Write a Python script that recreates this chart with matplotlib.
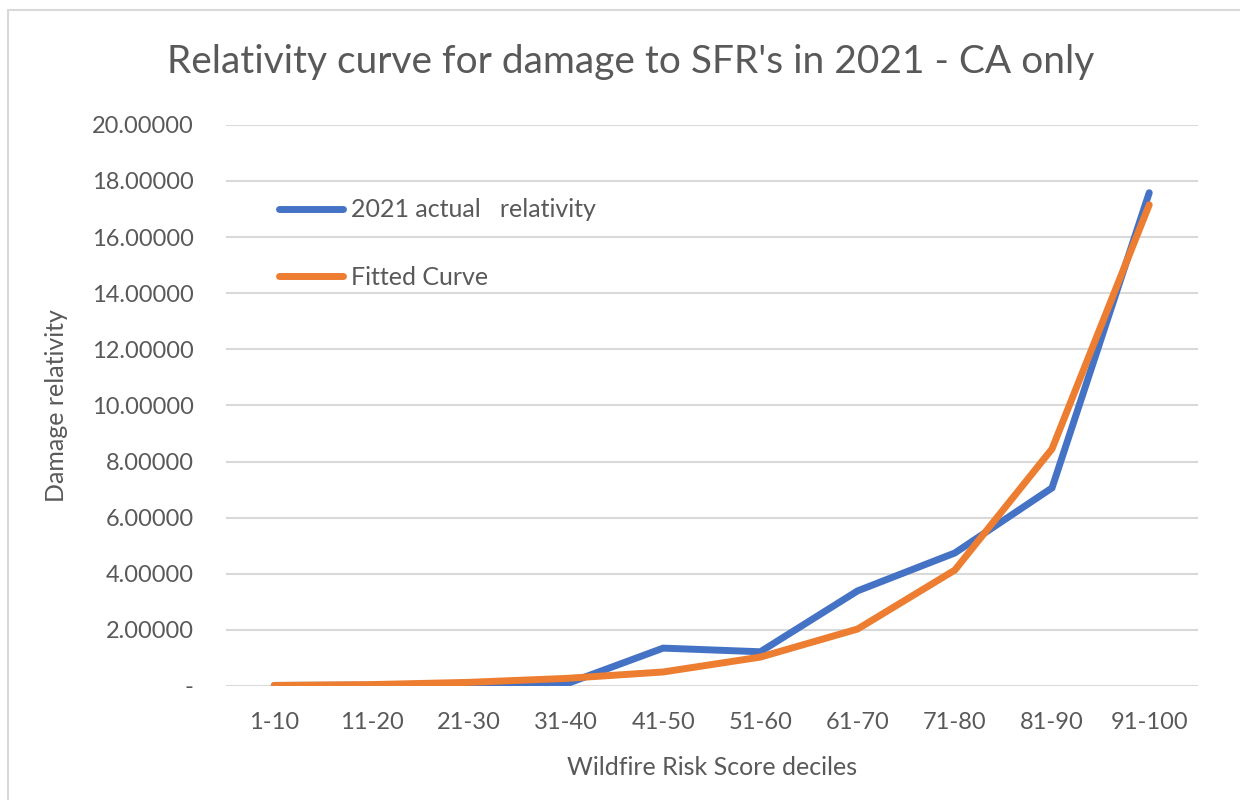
import matplotlib.pyplot as plt
from matplotlib.patches import Rectangle
from matplotlib.ticker import FuncFormatter

# Data
deciles = ['1-10', '11-20', '21-30', '31-40', '41-50', '51-60',
           '61-70', '71-80', '81-90', '91-100']
actual = [0.02, 0.03, 0.05, 0.07, 1.35, 1.22, 3.39, 4.74, 7.06, 17.58]
fitted = [0.02, 0.05, 0.13, 0.27, 0.50, 1.03, 2.03, 4.13, 8.45, 17.15]
yticks = [0, 2, 4, 6, 8, 10, 12, 14, 16, 18, 20]

grey = '#595959'
plt.rcParams['font.family'] = ['Lato', 'DejaVu Sans']

fig = plt.figure(figsize=(12.4, 8), dpi=100)
ax = fig.add_axes([0.182, 0.1425, 0.784, 0.7015])

# chart frame
fig.patches.append(Rectangle((8 / 1240, -0.01), 1.0, 1 - 10 / 800 + 0.01,
                             transform=fig.transFigure, fill=False,
                             edgecolor='#d9d9d9', linewidth=1.5))

x = range(len(deciles))
ax.plot(x, actual, color='#4472C4', lw=5, solid_capstyle='round',
        solid_joinstyle='miter', label='2021 actual   relativity')
ax.plot(x, fitted, color='#ED7D31', lw=5, solid_capstyle='round',
        solid_joinstyle='miter', label='Fitted Curve')

ax.set_xlim(-0.5, len(deciles) - 0.5)
ax.set_ylim(0, 20)
ax.set_xticks(list(x))
ax.set_xticklabels(deciles)
ax.set_yticks(yticks)
ax.yaxis.set_major_formatter(FuncFormatter(lambda v, p: '-' if v == 0 else f'{v:.5f}'))
ax.grid(axis='y', color='#d9d9d9', lw=1.5)
ax.set_axisbelow(True)
for s in ax.spines.values():
    s.set_visible(False)
ax.tick_params(length=0, labelsize=17, colors=grey)
ax.tick_params(axis='y', pad=23)
ax.tick_params(axis='x', pad=19)

fig.text(631 / 1240, 1 - 62 / 800, "Relativity curve for damage to SFR's in 2021 - CA only",
         fontsize=28, color=grey, ha='center', va='center')
ax.set_xlabel('Wildfire Risk Score deciles', fontsize=18, color=grey)
ax.set_ylabel('Damage relativity', fontsize=18, color=grey)
ax.xaxis.set_label_coords(0.5, -0.125)
ax.yaxis.set_label_coords(-0.1626, 0.5)

ax.legend(loc='upper left', bbox_to_anchor=(0.032, 0.909), frameon=False,
          fontsize=18, labelcolor=grey, handlelength=2.55, handletextpad=0.33,
          labelspacing=1.78)

fig.savefig('out.png', dpi=100)
